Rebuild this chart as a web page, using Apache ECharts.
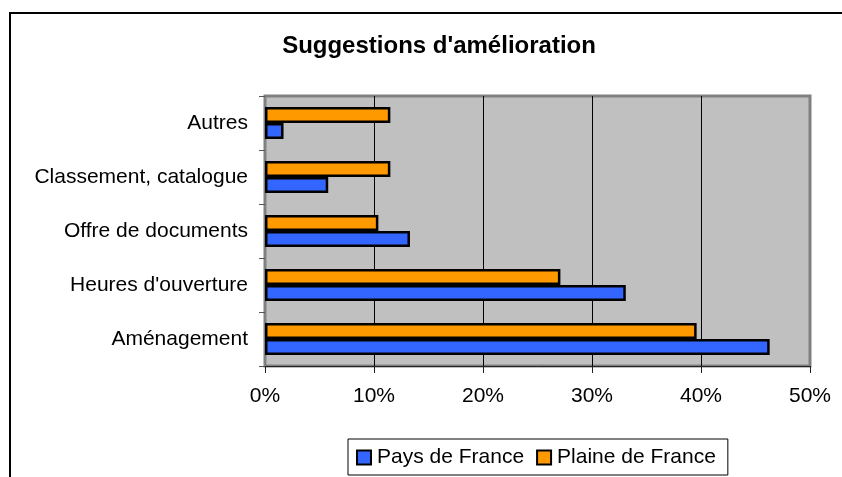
<!DOCTYPE html>
<html>
<head>
<meta charset="utf-8">
<script src="https://cdn.jsdelivr.net/npm/echarts@6/dist/echarts.min.js"></script>
<style>
  html, body { margin: 0; padding: 0; background: #fff; }
  #chart { width: 842px; height: 477px; }
</style>
</head>
<body>
<div id="chart"></div>
<script>
// categories bottom -> top
var categories = ['Aménagement', "Heures d'ouverture", 'Offre de documents', 'Classement, catalogue', 'Autres'];
var paysDeFrance = [46.3, 33.1, 13.3, 5.8, 1.7];
var plaineDeFrance = [39.6, 27.1, 10.4, 11.5, 11.5];
var seriesNames = ['Pays de France', 'Plaine de France'];

var font = 'Liberation Sans, Arial, sans-serif';
var chart = echarts.init(document.getElementById('chart'));

var option = {
    backgroundColor: '#fff',
    animation: false,
    title: {
        text: "Suggestions d'amélioration",
        left: 434,
        textAlign: 'center',
        top: 29,
        textStyle: { fontFamily: font, fontWeight: 'bold', fontSize: 24, color: '#000' }
    },
    graphic: [{
        // outer chart frame, runs off the page on right and bottom
        type: 'rect',
        shape: { x: 10, y: 13, width: 900, height: 600 },
        style: { fill: 'none', stroke: '#000', lineWidth: 2 },
        silent: true
    }],
    legend: {
        data: seriesNames,
        left: 348,
        top: 439,
        padding: [8, 12, 7, 8],
        itemGap: 12,
        itemWidth: 14,
        itemHeight: 14,
        icon: 'rect',
        borderColor: '#000',
        borderWidth: 1,
        borderRadius: 0,
        textStyle: { fontFamily: font, fontSize: 21, color: '#000', padding: [0, 0, 0, 1] }
    },
    grid: {
        left: 265, top: 96, right: 32, bottom: 111,
        show: true,
        backgroundColor: '#c0c0c0',
        borderColor: '#808080',
        borderWidth: 3
    },
    xAxis: {
        type: 'value',
        min: 0, max: 50, interval: 10,
        axisLine: { show: true, lineStyle: { color: '#222', width: 1 } },
        axisTick: { show: true, length: 7, lineStyle: { color: '#222' } },
        axisLabel: {
            formatter: '{value}%', margin: 20,
            fontFamily: font, fontSize: 21, color: '#000'
        },
        splitLine: { show: true, lineStyle: { color: ['transparent', '#000', '#000', '#000', '#000', 'transparent'], width: 1 } }
    },
    yAxis: {
        type: 'category',
        data: categories,
        axisLine: { show: true, lineStyle: { color: '#808080', width: 2 } },
        axisTick: { show: true, length: 6, lineStyle: { color: '#555' } },
        axisLabel: { margin: 17, fontFamily: font, fontSize: 21, color: '#000' },
        splitLine: { show: false }
    },
    series: [
        {
            // listed first so it sits on top within each band
            name: seriesNames[1],
            type: 'bar',
            data: plaineDeFrance,
            barWidth: 16,
            barGap: '0%',
            itemStyle: { color: '#ff9900', borderColor: '#000', borderWidth: 2.5 }
        },
        {
            name: seriesNames[0],
            type: 'bar',
            data: paysDeFrance,
            barWidth: 16,
            barGap: '0%',
            itemStyle: { color: '#3366ff', borderColor: '#000', borderWidth: 2.5 }
        }
    ]
};
chart.setOption(option);
</script>
</body>
</html>
